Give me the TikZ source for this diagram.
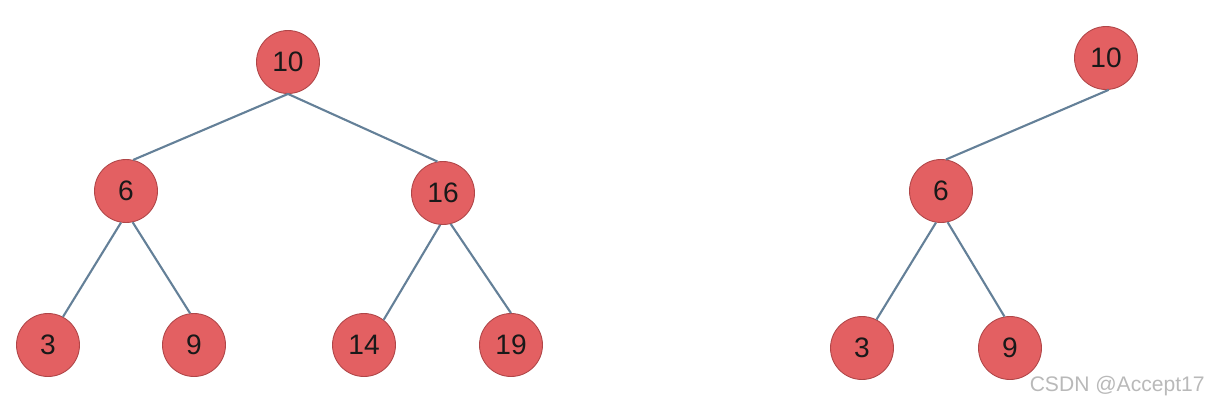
\documentclass[tikz,border=0pt]{standalone}
\usepackage{fontspec}
\setmainfont{Liberation Sans}
\definecolor{nodefill}{RGB}{227,96,98}
\definecolor{nodeline}{RGB}{176,70,72}
\definecolor{edgecol}{RGB}{100,128,152}
\definecolor{wmark}{RGB}{185,185,185}
\begin{document}
\begin{tikzpicture}[x=0.02cm,y=-0.02cm,
  treenode/.style={circle,fill=nodefill,draw=nodeline,line width=0.5pt,minimum size=1.26cm,inner sep=0pt,font=\fontsize{16}{16}\selectfont,text=black!90},
  edge/.style={draw=edgecol,line width=1.2pt}]
\useasboundingbox (0,0) rectangle (1210,410);
% left tree
\node[treenode] (a10) at (288,62) {10};
\node[treenode] (a6) at (126,191) {6};
\node[treenode] (a16) at (443,193) {16};
\node[treenode] (a3) at (48,345) {3};
\node[treenode] (a9) at (194,345) {9};
\node[treenode] (a14) at (364,345) {14};
\node[treenode] (a19) at (511,345) {19};
\draw[edge] (a10.south) -- (a6.77);
\draw[edge] (a10.south) -- (a16.100);
\draw[edge] (a6.261) -- (a3.62);
\draw[edge] (a6.282) -- (a9.97);
\draw[edge] (a16.265) -- (a14.52);
\draw[edge] (a16.284) -- (a19.90);
% right tree
\node[treenode] (b10) at (1106,58) {10};
\node[treenode] (b6) at (941,191) {6};
\node[treenode] (b3) at (862,348) {3};
\node[treenode] (b9) at (1010,348) {9};
\draw[edge] (b10.275) -- (b6.81);
\draw[edge] (b6.261) -- (b3.63);
\draw[edge] (b6.282) -- (b9.100);
% watermark
\node[text=wmark,font=\fontsize{12}{12}\selectfont,anchor=east,inner sep=0pt] (wm) at (1205,386) {CSDN @Accept17};
\end{tikzpicture}
\end{document}
